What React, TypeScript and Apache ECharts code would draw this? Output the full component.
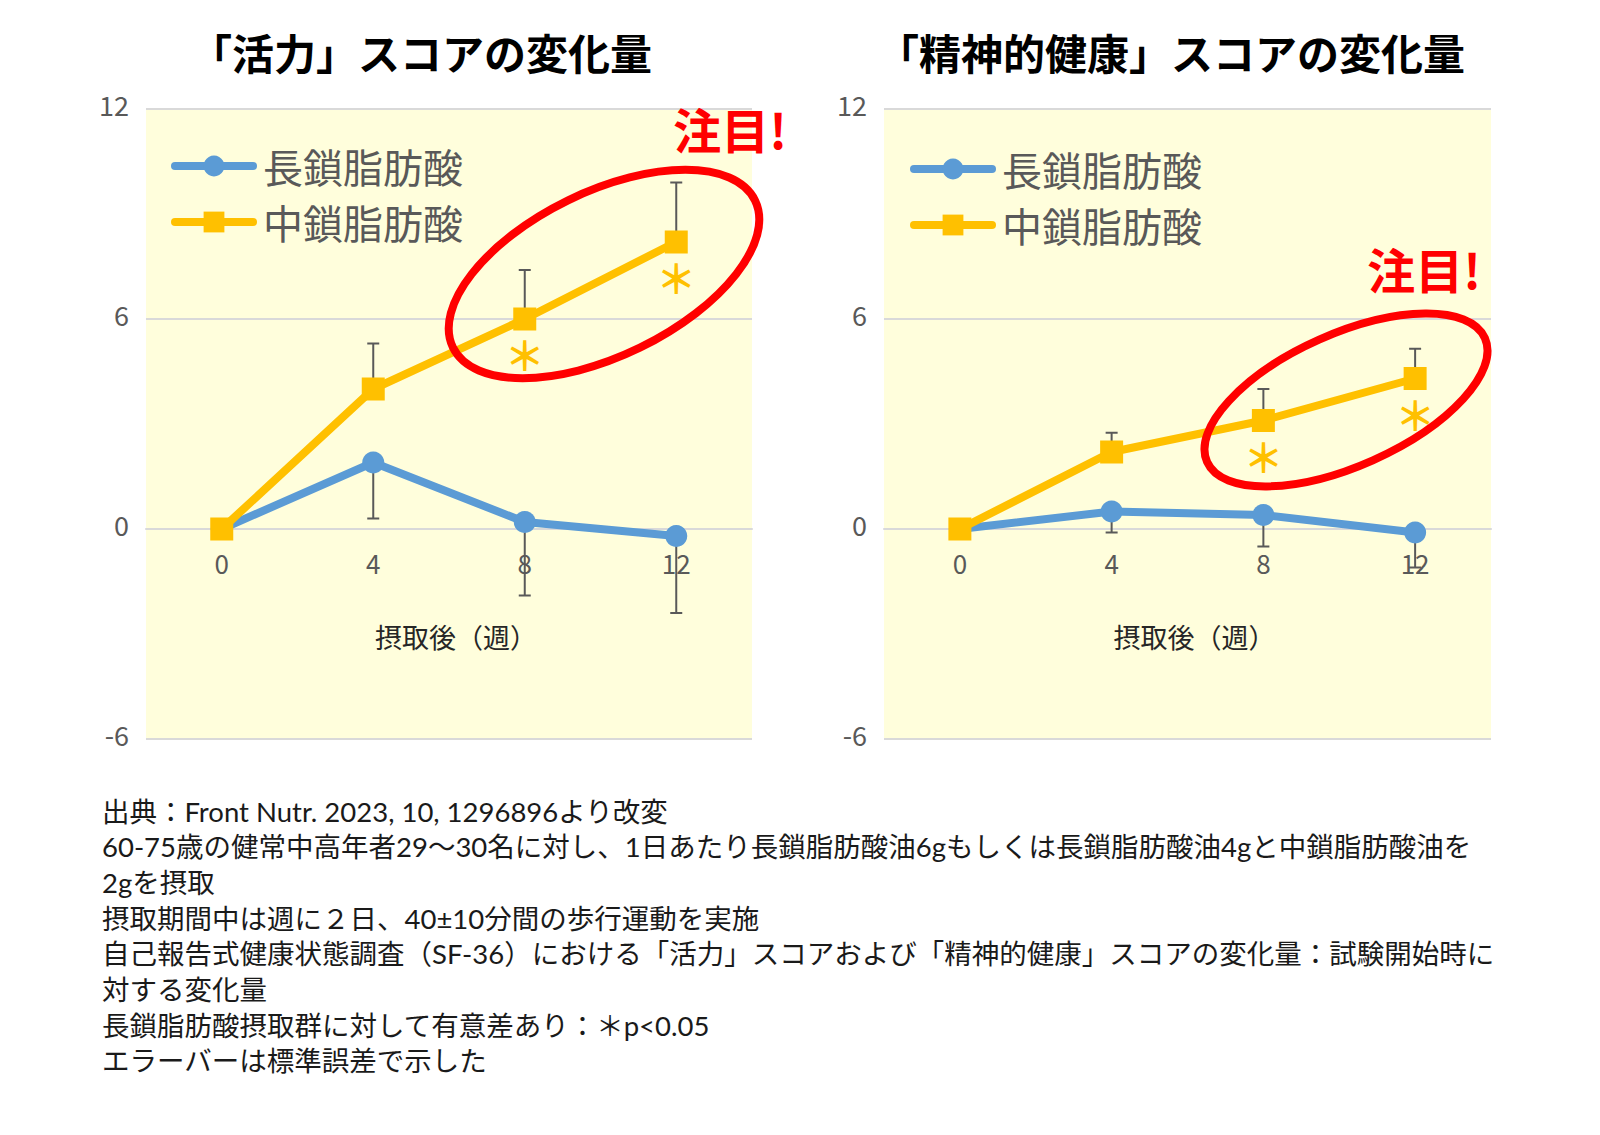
import React, { useEffect, useRef } from 'react';
import * as echarts from 'echarts';

// ---------- data ----------
const weeks = ['0', '4', '8', '12'];
const seriesNames = ['長鎖脂肪酸', '中鎖脂肪酸'];
const yMin = -6;
const yMax = 12;
const yStep = 6;

// 「活力」
const vitalityLong = [0, 1.9, 0.2, -0.2];
const vitalityLongSE = [0, 1.6, 2.1, 2.2];
const vitalityMedium = [0, 4.0, 6.0, 8.2];
const vitalityMediumSE = [0, 1.3, 1.4, 1.7];
const vitalitySignificant = [false, false, true, true];

// 「精神的健康」
const mentalLong = [0, 0.5, 0.4, -0.1];
const mentalLongSE = [0, 0.6, 0.9, 1.0];
const mentalMedium = [0, 2.2, 3.1, 4.3];
const mentalMediumSE = [0, 0.55, 0.9, 0.85];
const mentalSignificant = [false, false, true, true];

const titles = ['「活力」スコアの変化量', '「精神的健康」スコアの変化量'];
const xAxisName = '摂取後（週）';
const highlightLabel = '注目!';
const sigMark = '＊';
const notes = [
  '出典：Front Nutr. 2023, 10, 1296896より改変',
  '60-75歳の健常中高年者29～30名に対し、1日あたり長鎖脂肪酸油6gもしくは長鎖脂肪酸油4gと中鎖脂肪酸油を',
  '2gを摂取',
  '摂取期間中は週に２日、40±10分間の歩行運動を実施',
  '自己報告式健康状態調査（SF-36）における「活力」スコアおよび「精神的健康」スコアの変化量：試験開始時に',
  '対する変化量',
  '長鎖脂肪酸摂取群に対して有意差あり：＊p<0.05',
  'エラーバーは標準誤差で示した',
];

// ---------- styles ----------
const FONT = "'Noto Sans CJK JP', 'Noto Sans', sans-serif";
const NOTE_FONT = "Lato, 'Noto Sans CJK JP', sans-serif";
const BLUE = '#5B9BD5';
const ORANGE = '#FFC000';
const GRAY = '#595959';
const RED = '#FF0000';
const GRID_LINE = '#D9D9D9';

const grids = [
  { left: 146, top: 109, width: 606, height: 630 },
  { left: 884, top: 109, width: 607, height: 630 },
];

function errorBars(gi: number, values: number[], se: number[], dir: number) {
  const data = values
    .map((v, i) => [i, v, v + dir * se[i]])
    .filter((_, i) => se[i] > 0);
  return {
    type: 'custom',
    xAxisIndex: gi,
    yAxisIndex: gi,
    z: 1,
    silent: true,
    data,
    encode: { x: 0, y: [1, 2] },
    renderItem: (_p: any, api: any) => {
      const a = api.coord([api.value(0), api.value(1)]);
      const b = api.coord([api.value(0), api.value(2)]);
      const st = { stroke: GRAY, lineWidth: 2 };
      return {
        type: 'group',
        children: [
          { type: 'line', shape: { x1: a[0], y1: a[1], x2: b[0], y2: b[1] }, style: st },
          { type: 'line', shape: { x1: b[0] - 6, y1: b[1], x2: b[0] + 6, y2: b[1] }, style: st },
        ],
      };
    },
  };
}

function sigMarks(gi: number, values: number[], sig: boolean[]) {
  const data = values.map((v, i) => [i, v]).filter((_, i) => sig[i]);
  return {
    type: 'custom',
    xAxisIndex: gi,
    yAxisIndex: gi,
    z: 5,
    silent: true,
    data,
    renderItem: (_p: any, api: any) => {
      const p = api.coord([api.value(0), api.value(1)]);
      return {
        type: 'text',
        x: p[0],
        y: p[1] + 35,
        style: {
          text: sigMark,
          fill: ORANGE,
          fontSize: 40,
          fontWeight: 'bold',
          fontFamily: FONT,
          align: 'center',
          verticalAlign: 'middle',
        },
      };
    },
  };
}

function lineSeries(gi: number, name: string, values: number[], color: string, symbol: string) {
  return {
    type: 'line',
    name,
    xAxisIndex: gi,
    yAxisIndex: gi,
    data: values,
    symbol,
    symbolSize: symbol === 'circle' ? 22 : 23,
    showAllSymbol: true,
    z: 3,
    itemStyle: { color },
    lineStyle: { color, width: 8, cap: 'round', join: 'round' },
  };
}

function buildOption() {
  // place the category axis where y = 0 (as Excel does)
  const xAxes = grids.map((g, gi) => ({
    type: 'category',
    gridIndex: gi,
    data: weeks,
    boundaryGap: true,
    offset: -(g.height * (0 - yMin)) / (yMax - yMin),
    axisLine: { show: true, onZero: false, lineStyle: { color: GRID_LINE, width: 2 } },
    axisTick: { show: false },
    axisLabel: { fontSize: 26, color: GRAY, fontFamily: FONT, margin: 20 },
    name: xAxisName,
    nameLocation: 'middle',
    nameGap: 88,
    nameTextStyle: { fontSize: 27, color: '#262626', fontFamily: FONT, padding: [6, 0, 0, 14] },
  }));
  const yAxes = grids.map((_, gi) => ({
    type: 'value',
    gridIndex: gi,
    min: yMin,
    max: yMax,
    interval: yStep,
    axisLine: { show: false },
    axisTick: { show: false },
    axisLabel: {
      fontSize: 27,
      color: GRAY,
      fontFamily: FONT,
      margin: 17,
      verticalAlign: 'bottom',
      lineHeight: 9,
    },
    splitLine: { show: true, lineStyle: { color: GRID_LINE, width: 2 } },
  }));

  const legendCommon = {
    data: seriesNames,
    orient: 'vertical',
    itemWidth: 78,
    itemHeight: 26,
    itemGap: 12,
    selectedMode: false,
    textStyle: { fontSize: 40, color: GRAY, fontFamily: FONT, lineHeight: 44, padding: [0, 0, 0, 5] },
    lineStyle: { width: 8, cap: 'round' },
  };

  const titleText = (text: string, cx: number) => ({
    type: 'text',
    x: cx,
    y: 51,
    style: {
      text,
      fontSize: 42,
      fontWeight: 'bold',
      fontFamily: FONT,
      fill: '#000',
      align: 'center',
      verticalAlign: 'middle',
    },
  });

  const ellipse = (cx: number, cy: number, rx: number, ry: number, deg: number) => ({
    type: 'ellipse',
    x: cx,
    y: cy,
    rotation: (deg * Math.PI) / 180,
    shape: { cx: 0, cy: 0, rx, ry },
    style: { fill: 'none', stroke: RED, lineWidth: 8 },
    z: 10,
  });

  const highlight = (cx: number, cy: number) => ({
    type: 'text',
    x: cx,
    y: cy,
    style: {
      text: highlightLabel,
      fontSize: 48,
      fontWeight: 'bold',
      fontFamily: FONT,
      fill: RED,
      align: 'center',
      verticalAlign: 'middle',
    },
    z: 10,
  });

  const noteLines = notes.map((t, i) => ({
    type: 'text',
    x: 102,
    y: 811 + i * 35.7,
    style: {
      text: t,
      fontSize: 27.5,
      fontFamily: NOTE_FONT,
      fill: '#1A1A1A',
      align: 'left',
      verticalAlign: 'middle',
    },
  }));

  return {
    animation: false,
    backgroundColor: '#FFFFFF',
    textStyle: { fontFamily: FONT },
    grid: grids.map((g) => ({
      ...g,
      show: true,
      backgroundColor: '#FFFEDC',
      borderWidth: 0,
      containLabel: false,
    })),
    xAxis: xAxes,
    yAxis: yAxes,
    legend: [
      { ...legendCommon, left: 166, top: 139 },
      { ...legendCommon, left: 905, top: 142 },
    ],
    series: [
      errorBars(0, vitalityLong, vitalityLongSE, -1),
      errorBars(0, vitalityMedium, vitalityMediumSE, 1),
      lineSeries(0, seriesNames[0], vitalityLong, BLUE, 'circle'),
      lineSeries(0, seriesNames[1], vitalityMedium, ORANGE, 'rect'),
      sigMarks(0, vitalityMedium, vitalitySignificant),
      errorBars(1, mentalLong, mentalLongSE, -1),
      errorBars(1, mentalMedium, mentalMediumSE, 1),
      lineSeries(1, seriesNames[0], mentalLong, BLUE, 'circle'),
      lineSeries(1, seriesNames[1], mentalMedium, ORANGE, 'rect'),
      sigMarks(1, mentalMedium, mentalSignificant),
    ],
    graphic: [
      titleText(titles[0], 421),
      titleText(titles[1], 1171),
      ellipse(604, 274, 168, 82, 26),
      ellipse(1346, 400, 152, 66, 24),
      highlight(730, 128),
      highlight(1424, 268),
      ...noteLines,
    ],
  };
}

export default function App() {
  const ref = useRef<HTMLDivElement>(null);
  useEffect(() => {
    document.body.style.margin = '0';
    if (!ref.current) return;
    const chart = echarts.init(ref.current, undefined, { renderer: 'svg' });
    chart.setOption(buildOption() as any);
    return () => chart.dispose();
  }, []);
  return <div ref={ref} style={{ width: 1600, height: 1135, background: '#fff' }} />;
}
